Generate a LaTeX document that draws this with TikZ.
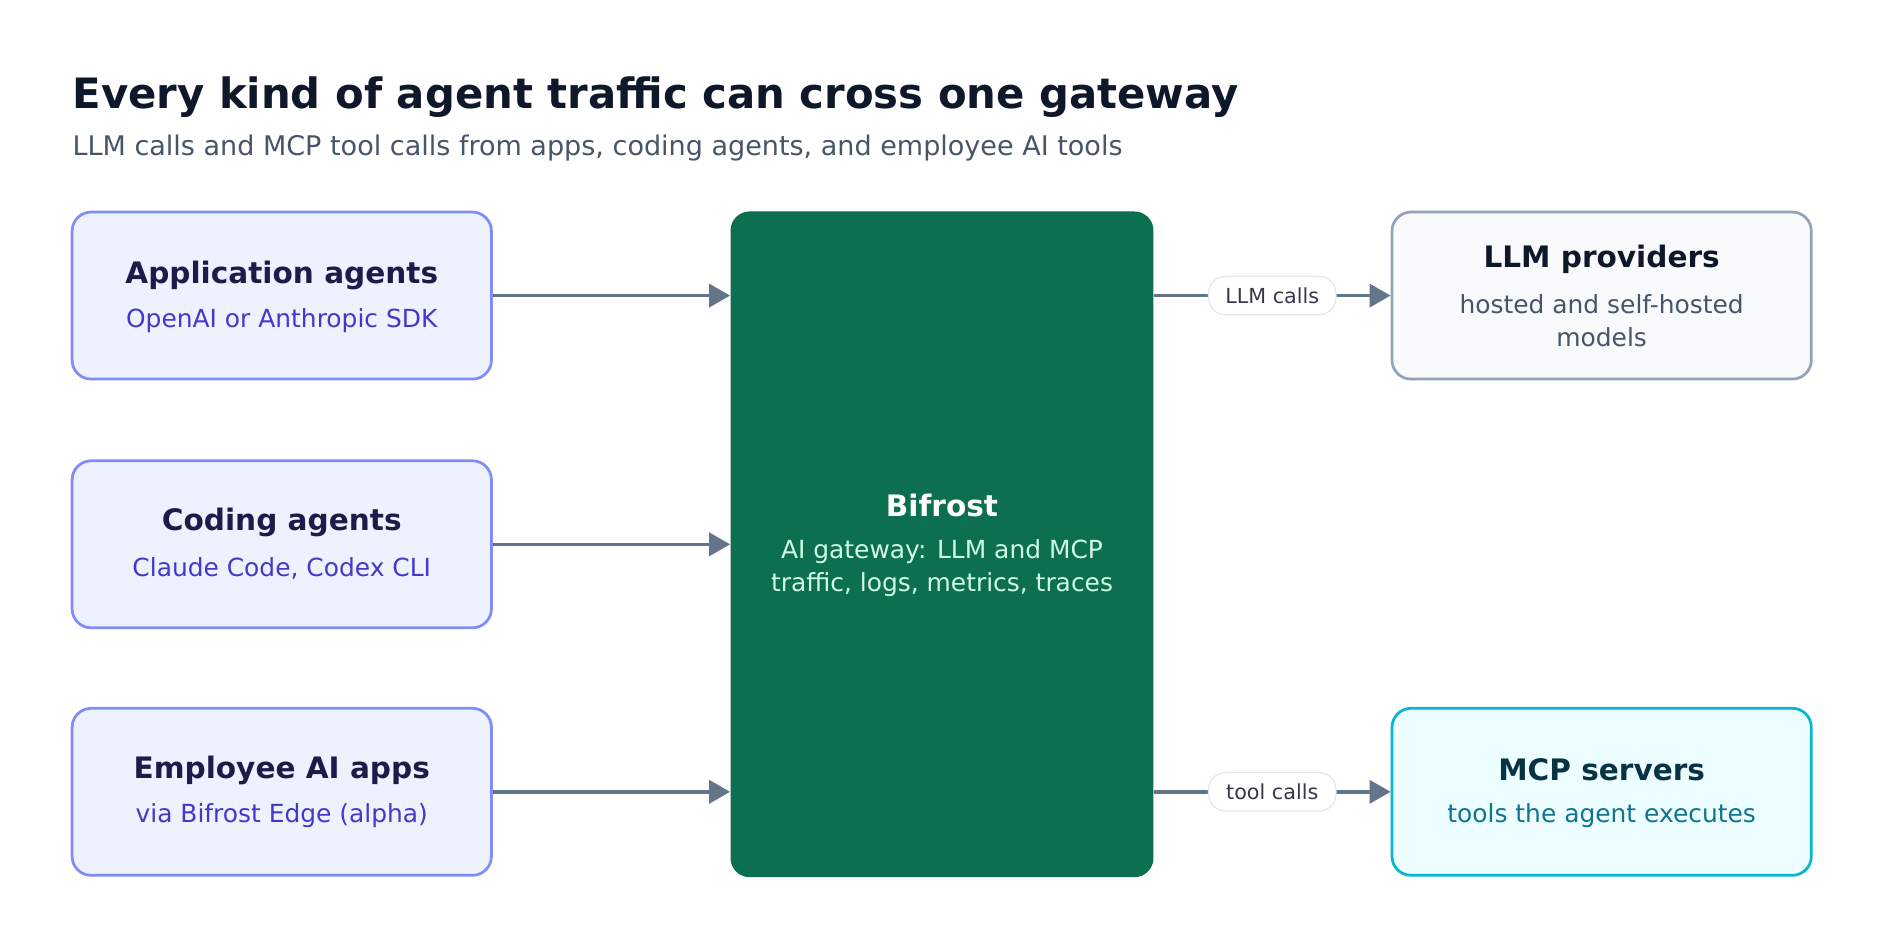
\documentclass[tikz,border=0pt]{standalone}
\usepackage{fontspec}
\setmainfont{DejaVu Sans}
\usetikzlibrary{positioning,arrows.meta}

\definecolor{inkdark}{HTML}{0F172A}
\definecolor{inkgray}{HTML}{475569}
\definecolor{appfill}{HTML}{EEF2FF}
\definecolor{appline}{HTML}{818CF8}
\definecolor{apphead}{HTML}{1E1B4B}
\definecolor{appsub}{HTML}{4338CA}
\definecolor{gwfill}{HTML}{0C6F4F}
\definecolor{gwsub}{HTML}{D1FAE5}
\definecolor{provfill}{HTML}{F8FAFC}
\definecolor{provline}{HTML}{94A3B8}
\definecolor{mcpfill}{HTML}{ECFEFF}
\definecolor{mcpline}{HTML}{06B6D4}
\definecolor{mcphead}{HTML}{083344}
\definecolor{mcpsub}{HTML}{0E7490}
\definecolor{wire}{HTML}{64748B}
\definecolor{pill}{HTML}{E2E8F0}

\tikzset{
  box/.style={draw, line width=1.3pt, rounded corners=9pt, minimum width=349*0.02cm, minimum height=139*0.02cm},
  head/.style={font=\bfseries\fontsize{14}{16}\selectfont},
  sub/.style={font=\fontsize{11.8}{15.5}\selectfont, align=center},
  flow/.style={draw=wire, line width=1.6pt, -{Triangle[length=10pt,width=11pt]}},
  tag/.style={draw=pill, fill=white, line width=0.6pt, rounded corners=8pt, minimum width=106*0.02cm, minimum height=32*0.02cm, font=\fontsize{9.8}{11}\selectfont, text=inkdark!85},
}

\begin{document}
\begin{tikzpicture}[x=0.02cm, y=-0.02cm]
\useasboundingbox (0,0) rectangle (1568,789);

\def\xl{234.5}
\def\xm{784}
\def\xr{1333}
\def\ya{246}
\def\yb{453}
\def\yc{659}

\node[anchor=base west, inner sep=0pt, font=\bfseries\fontsize{19.8}{22}\selectfont, text=inkdark] (title) at (60,90) {Every kind of agent traffic can cross one gateway};
\node[anchor=base west, inner sep=0pt, font=\fontsize{12.8}{14}\selectfont, text=inkgray] (subtitle) at (60,129) {LLM calls and MCP tool calls from apps, coding agents, and employee AI tools};

% sources
\node[box, draw=appline, fill=appfill] (app) at (\xl,\ya) {};
\node[box, draw=appline, fill=appfill] (code) at (\xl,\yb) {};
\node[box, draw=appline, fill=appfill] (emp) at (\xl,\yc) {};
\node[head, text=apphead] at (\xl,229) {Application agents};
\node[sub, text=appsub] at (\xl,267) {OpenAI or Anthropic SDK};
\node[head, text=apphead] at (\xl,435) {Coding agents};
\node[sub, text=appsub] at (\xl,473) {Claude Code, Codex CLI};
\node[head, text=apphead] at (\xl,641) {Employee AI apps};
\node[sub, text=appsub] at (\xl,679) {via Bifrost Edge (alpha)};

% gateway
\node[fill=gwfill, rounded corners=9pt, minimum width=352*0.02cm, minimum height=554*0.02cm] (gw) at (\xm,453) {};
\node[head, text=white] at (\xm,421) {Bifrost};
\node[sub, text=gwsub] at (\xm,473) {AI gateway: LLM and MCP\\traffic, logs, metrics, traces};

% targets
\node[box, draw=provline, fill=provfill] (prov) at (\xr,\ya) {};
\node[box, draw=mcpline, fill=mcpfill] (mcp) at (\xr,\yc) {};
\node[head, text=inkdark] at (\xr,216) {LLM providers};
\node[sub, text=inkgray] at (\xr,267) {hosted and self-hosted\\models};
\node[head, text=mcphead] at (\xr,641) {MCP servers};
\node[sub, text=mcpsub] at (\xr,679) {tools the agent executes};

\draw[flow] (app.east) -- (gw.west |- app.east);
\draw[flow] (code.east) -- (gw.west |- code.east);
\draw[flow] (emp.east) -- (gw.west |- emp.east);
\draw[flow] (gw.east |- prov.west) -- node[tag] {LLM calls} (prov.west);
\draw[flow] (gw.east |- mcp.west) -- node[tag] {tool calls} (mcp.west);

\end{tikzpicture}
\end{document}
